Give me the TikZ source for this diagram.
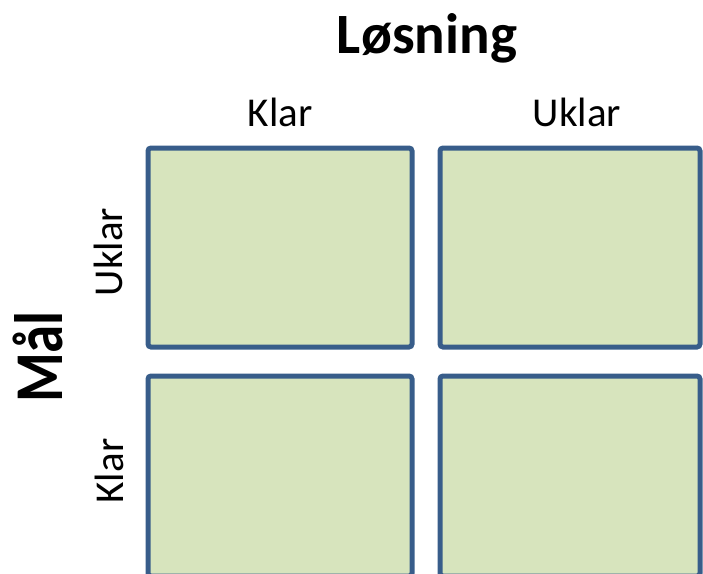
\documentclass[tikz,border=0pt]{standalone}
\usepackage{fontspec}
\setmainfont{Carlito}
\definecolor{cellfill}{HTML}{D7E4BD}
\definecolor{celledge}{HTML}{385D8A}
\begin{document}
\begin{tikzpicture}[x=1pt,y=-1pt,
  cell/.style={draw=celledge,fill=cellfill,line width=5pt,rounded corners=3pt},
  head/.style={font=\fontsize{57}{60}\selectfont\bfseries,anchor=base,inner sep=0pt},
  lab/.style={font=\fontsize{41}{44}\selectfont,anchor=base,inner sep=0pt}]
\useasboundingbox (0,0) rectangle (703,573);
\draw[cell] (148,148) rectangle (412,347) node[pos=.5] (tl) {};
\draw[cell] (440,148) rectangle (700,347) node[pos=.5] (tr) {};
\draw[cell] (148,376) rectangle (412,576) node[pos=.5] (bl) {};
\draw[cell] (440,376) rectangle (700,576) node[pos=.5] (br) {};
\node[head] (losning) at (427,53) {Løsning};
\node[lab] (colklar) at (280,126) {Klar};
\node[lab] (coluklar) at (577,126) {Uklar};
\node[lab,rotate=90] (rowuklar) at (122,252) {Uklar};
\node[lab,rotate=90] (rowklar) at (123,471) {Klar};
\node[head,rotate=90,yscale=1.2] (maal) at (62,357) {Mål};
\end{tikzpicture}
\end{document}
